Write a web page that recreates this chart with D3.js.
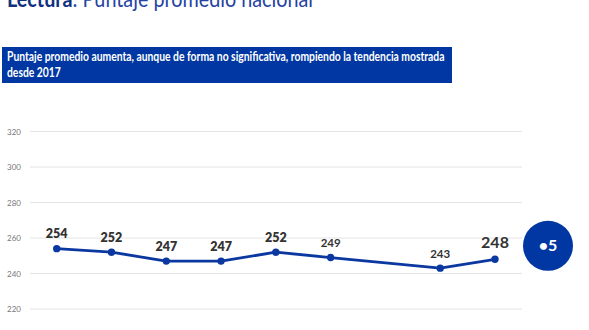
<!DOCTYPE html>
<html>
<head>
<meta charset="utf-8">
<script src="https://cdn.jsdelivr.net/npm/d3@7"></script>
<style>
  html, body { margin: 0; padding: 0; background: #fff; }
  svg { display: block; }
</style>
</head>
<body>
<svg id="chart" width="589" height="330"></svg>
<script>
// ---- data ----
const categories = ["2013", "2014", "2015", "2016", "2017", "2018", "2019", "2022", "2023"];
const values = [254, 252, 247, 247, 252, 249, null, 243, 248];
const yTicks = [220, 240, 260, 280, 300, 320];
const titleBold = "Lectura";
const titleRest = ": Puntaje promedio nacional";
const bannerLines = [
  "Puntaje promedio aumenta, aunque de forma no significativa, rompiendo la tendencia mostrada",
  "desde 2017"
];
const changeLabel = "•5";

// ---- drawing ----
const svg = d3.select("#chart");
const blue = "#0a38a0";
const font = "Lato, 'Open Sans', sans-serif";

// title (cut off at top, as in the reference)
const tg = svg.append("g");
const title = tg.append("text")
  .attr("x", 0).attr("y", 0)
  .attr("font-family", font)
  .attr("font-size", 23)
  .attr("fill", "#2443a3");
title.append("tspan").attr("font-weight", 700).attr("fill", "#10307f").text(titleBold);
title.append("tspan").text(titleRest);
const tw = title.node().getComputedTextLength();
tg.attr("transform", `translate(7,7) scale(${306 / tw},1)`);

// banner
svg.append("rect")
  .attr("x", 2).attr("y", 47).attr("width", 450).attr("height", 36)
  .attr("fill", "#0037a2");
const bt = svg.append("g");
bannerLines.forEach((t, i) => {
  bt.append("text")
    .attr("x", 0).attr("y", i * 15.7)
    .attr("font-family", font)
    .attr("font-weight", 700)
    .attr("font-size", 12.6)
    .attr("fill", "#fff")
    .text(t);
});
const bw = bt.select("text").node().getComputedTextLength();
bt.attr("transform", `translate(7,61) scale(${438 / bw},1)`);

// scales
const y = d3.scaleLinear().domain([220, 320]).range([309, 131.5]);
const x = d3.scalePoint().domain(categories).range([56.7, 495]);

// grid
const grid = svg.append("g");
grid.selectAll("line").data(yTicks).join("line")
  .attr("x1", 30).attr("x2", 522)
  .attr("y1", d => y(d)).attr("y2", d => y(d))
  .attr("stroke", "#e4e4e4").attr("stroke-width", 1);

// y axis labels
const yAxis = d3.axisLeft(y).tickValues(yTicks).tickSize(0).tickPadding(0);
const ga = svg.append("g").attr("transform", "translate(21,0)").call(yAxis);
ga.select(".domain").remove();
ga.selectAll("text")
  .attr("font-family", font)
  .attr("font-size", 8)
  .attr("fill", "#777");

// line
const pts = categories.map((c, i) => ({ c, v: values[i], i })).filter(d => d.v !== null);
const line = d3.line().x(d => x(d.c)).y(d => y(d.v));
svg.append("path")
  .datum(pts)
  .attr("d", line)
  .attr("fill", "none")
  .attr("stroke", blue)
  .attr("stroke-width", 2.8)
  .attr("stroke-linejoin", "round");

svg.selectAll("circle.pt").data(pts).join("circle")
  .attr("class", "pt")
  .attr("cx", d => x(d.c)).attr("cy", d => y(d.v))
  .attr("r", 3.7)
  .attr("fill", blue);

// value labels
const last = pts.length - 1;
svg.selectAll("text.lbl").data(pts).join("text")
  .attr("class", "lbl")
  .attr("x", d => x(d.c))
  .attr("y", d => y(d.v) - (d.i === categories.length - 1 ? 11 : 10.5))
  .attr("text-anchor", "middle")
  .attr("font-family", font)
  .attr("font-weight", (d, i) => i === last ? 700 : (i >= 5 ? 700 : 800))
  .attr("font-size", (d, i) => i === last ? 16 : (i >= 5 ? 11.5 : 12.5))
  .attr("fill", "#333")
  .text(d => d.v);

// change badge
const lastPt = pts[last];
const cy = y(lastPt.v) - 13.5;
svg.append("circle")
  .attr("cx", 548).attr("cy", cy).attr("r", 25)
  .attr("fill", "#0037a2");
svg.append("text")
  .attr("x", 548).attr("y", cy + 5.5)
  .attr("text-anchor", "middle")
  .attr("font-family", font)
  .attr("font-weight", 700)
  .attr("font-size", 16)
  .attr("fill", "#fff")
  .text(changeLabel);
</script>
</body>
</html>
